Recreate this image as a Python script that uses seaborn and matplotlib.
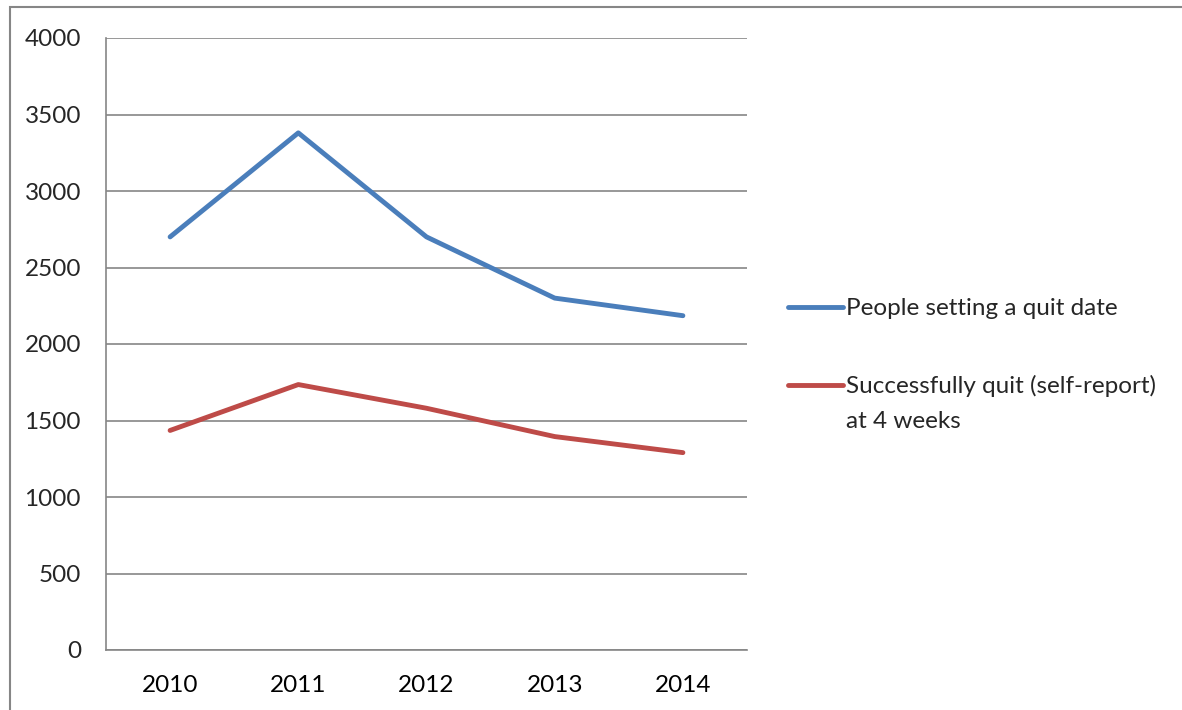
import matplotlib
matplotlib.use("Agg")
import matplotlib.pyplot as plt
import matplotlib.patches as mpatches
import seaborn as sns
import pandas as pd

years = ["2010", "2011", "2012", "2013", "2014"]
quit_date_set = [2700, 3380, 2700, 2300, 2185]
quit_success = [1435, 1735, 1580, 1395, 1290]
series_names = ["People setting a quit date", "Successfully quit (self-report)"]
series_extra_line = "at 4 weeks"
y_ticks = [0, 500, 1000, 1500, 2000, 2500, 3000, 3500, 4000]

sns.set_style("white")
plt.rcParams["font.family"] = ["Lato", "DejaVu Sans"]

grid_col = "#868686"
colors = ["#4A7EBB", "#BE4B48"]
fs = 17.5

df = pd.DataFrame({
    "pos": list(range(len(years))) * 2,
    "value": quit_date_set + quit_success,
    "series": [series_names[0]] * len(years) + [series_names[1]] * len(years),
})

fig = plt.figure(figsize=(11.82, 7.10), dpi=100)
ax = fig.add_axes([106 / 1182, 1 - 650 / 710, (747 - 106) / 1182, (650 - 38) / 710])

sns.lineplot(data=df, x="pos", y="value", hue="series", palette=colors,
             linewidth=3.5, ax=ax, legend=False)

ax.set_xlim(-0.5, len(years) - 0.5)
ax.set_ylim(0, 4000)
ax.set_yticks(y_ticks)
ax.set_yticklabels([str(t) for t in y_ticks], fontsize=fs)
ax.set_xticks(range(len(years)))
ax.set_xticklabels(years, fontsize=fs)
ax.set_xticks([i - 0.5 for i in range(len(years) + 1)], minor=True)
ax.tick_params(axis="x", which="major", length=0, pad=18, colors="black")
ax.tick_params(axis="x", which="minor", length=6, width=1.2, color=grid_col, direction="out")
ax.tick_params(axis="y", length=6, width=1.2, color=grid_col, direction="out", pad=12)
ax.yaxis.grid(True, color=grid_col, linewidth=1.2)
ax.xaxis.grid(False)
ax.set_xlabel("")
ax.set_ylabel("")
for side in ["top", "right"]:
    ax.spines[side].set_visible(False)
for side in ["left", "bottom"]:
    ax.spines[side].set_color(grid_col)
    ax.spines[side].set_linewidth(1.2)

handles = [plt.Line2D([], [], color=c, linewidth=3.5) for c in colors]
leg = fig.legend(handles, series_names, loc="upper left",
                 bbox_to_anchor=(776 / 1182, 1 - 286 / 710),
                 frameon=False, fontsize=fs, handlelength=2.25,
                 handletextpad=0.15, labelspacing=2.3, borderpad=0)

fig.canvas.draw()
bb = leg.get_texts()[1].get_window_extent()
fig.text(bb.x0 / fig.bbox.width, (bb.y0 - 35) / fig.bbox.height, series_extra_line,
         fontsize=fs, ha="left", va="bottom")

# outer chart border
fig.patches.append(mpatches.Rectangle((10 / 1182, -0.1), 1.2, 1 - 7 / 710 + 0.1,
                                      transform=fig.transFigure, fill=False,
                                      edgecolor=grid_col, linewidth=1.5))

fig.savefig("out.png", dpi=100)
